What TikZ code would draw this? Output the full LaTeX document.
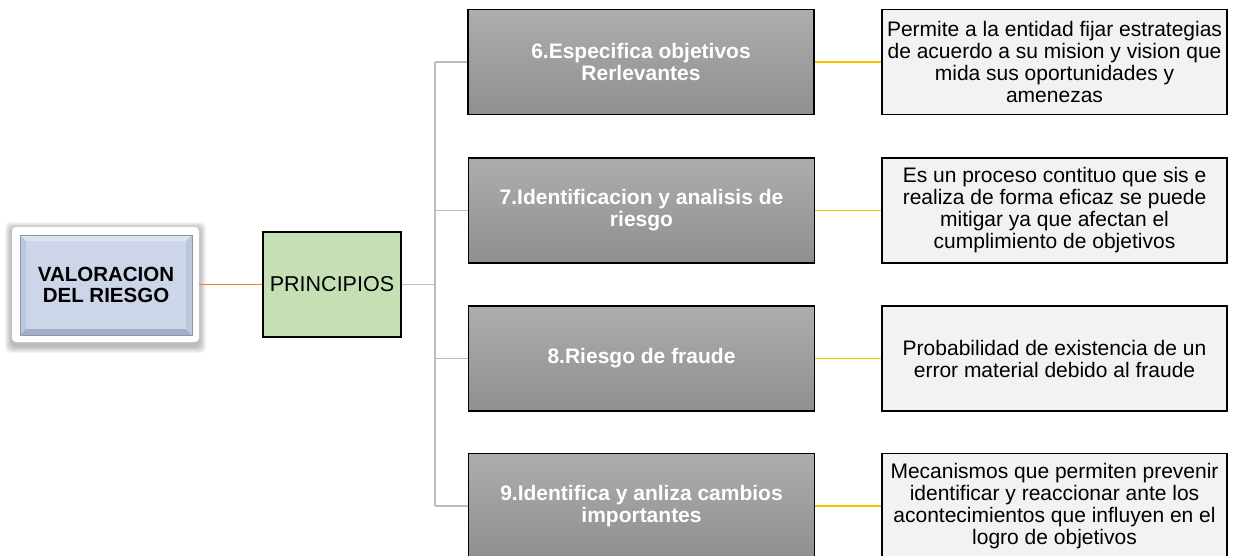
\documentclass[tikz,border=0pt]{standalone}
\usepackage{fontspec}
\setmainfont{Liberation Sans}
\definecolor{grayTop}{HTML}{ADADAD}
\definecolor{grayBot}{HTML}{8F8F8F}
\definecolor{descFill}{HTML}{F2F2F2}
\definecolor{prinFill}{HTML}{C5E0B4}
\definecolor{orangeLn}{HTML}{ED7D31}
\definecolor{yellowLn}{HTML}{FFC000}
\definecolor{connGray}{HTML}{BDBDBD}
\definecolor{blueFace}{HTML}{CDD5E8}
\definecolor{bevelLight}{HTML}{DDE3F0}
\definecolor{bevelDark}{HTML}{A3AEC8}
\definecolor{bevelSide}{HTML}{BCC6DC}
\definecolor{blueEdge}{HTML}{8A96B0}
\begin{document}
\begin{tikzpicture}[x=1pt,y=-1pt,
  txt/.style={align=center, inner sep=0pt, font=\fontsize{21}{22}\selectfont},
  grayBox/.style={txt, draw=black, line width=1.6pt, top color=grayTop, bottom color=grayBot,
    text=white, font=\bfseries\fontsize{21}{22}\selectfont, minimum width=346pt, minimum height=105pt},
  descBox/.style={txt, draw=black, line width=1.6pt, fill=descFill, minimum width=345pt, minimum height=105pt},
  prinBox/.style={txt, draw=black, line width=1.6pt, fill=prinFill, minimum width=138pt, minimum height=105pt,
    font=\fontsize{21.5}{22}\selectfont},
  valFrame/.style={draw=black!8, line width=0.4pt, fill=white, rounded corners=4pt, minimum width=187pt, minimum height=115pt},
  valInner/.style={txt, fill=blueFace, draw=blueEdge, line width=0.6pt, minimum width=172pt, minimum height=100pt},
  softShadow/.style={fill=black, opacity=0.045, rounded corners=6pt},
  grayLn/.style={draw=connGray, line width=1.2pt},
  orangeConn/.style={draw=orangeLn, line width=1.2pt},
  yellowConn/.style={draw=yellowLn, line width=1.2pt}]
\useasboundingbox (0,0) rectangle (1239,555);

% soft shadow behind the root frame
\foreach \d in {1,2,3,4,5,6,7} {
  \fill[softShadow] (12-\d,229-\d) rectangle (199+\d,346+\d);
}
% left root
\node[valFrame] (valframe) at (105.5,284.5) {};
\node[valInner] (val) at (106,285) {};
\fill[bevelLight] (20,235) -- (192,235) -- (186,241) -- (26,241) -- cycle;
\fill[bevelSide] (20,235) -- (26,241) -- (26,329) -- (20,335) -- cycle;
\fill[bevelDark] (20,335) -- (26,329) -- (186,329) -- (192,335) -- cycle;
\fill[bevelSide] (192,235) -- (192,335) -- (186,329) -- (186,241) -- cycle;
\draw[blueEdge, line width=0.6pt] (20,235) rectangle (192,335);
\node[txt, font=\bfseries\fontsize{20.5}{21}\selectfont] (valtext) at (106,285) {VALORACION\\DEL RIESGO};

\node[prinBox] (pri) at (332,284.5) {PRINCIPIOS};

% middle gray boxes
\node[grayBox] (g6) at (641,62) {6.Especifica objetivos\\Rerlevantes};
\node[grayBox] (g7) at (641.5,210.5) {7.Identificacion y analisis de\\riesgo};
\node[grayBox] (g8) at (641.5,358.5) {8.Riesgo de fraude};
\node[grayBox] (g9) at (641.5,506) {9.Identifica y anliza cambios\\importantes};

% description boxes
\node[descBox] (r6) at (1054.5,62) {Permite a la entidad fijar estrategias\\de acuerdo a su mision y vision que\\mida sus oportunidades y\\amenezas};
\node[descBox] (r7) at (1054.5,210.5) {Es un proceso contituo que sis e\\realiza de forma eficaz se puede\\mitigar ya que afectan el\\cumplimiento de objetivos};
\node[descBox] (r8) at (1054.5,358.5) {Probabilidad de existencia de un\\error material debido al fraude};
\node[descBox] (r9) at (1054.5,506) {Mecanismos que permiten prevenir\\identificar y reaccionar ante los\\acontecimientos que influyen en el\\logro de objetivos};

% connectors
\draw[orangeConn] (valframe.east) -- (pri.west);
\coordinate (trunk) at (435,284.5);
\draw[grayLn] (pri.east) -- (trunk);
\draw[grayLn] (trunk |- g6.west) -- (trunk |- g9.west);
\draw[grayLn] (trunk |- g6.west) -- (g6.west);
\draw[grayLn] (trunk |- g7.west) -- (g7.west);
\draw[grayLn] (trunk |- g8.west) -- (g8.west);
\draw[grayLn] (trunk |- g9.west) -- (g9.west);
\draw[yellowConn] (g6.east) -- (r6.west);
\draw[yellowConn] (g7.east) -- (r7.west);
\draw[yellowConn] (g8.east) -- (r8.west);
\draw[yellowConn] (g9.east) -- (r9.west);
\end{tikzpicture}
\end{document}
